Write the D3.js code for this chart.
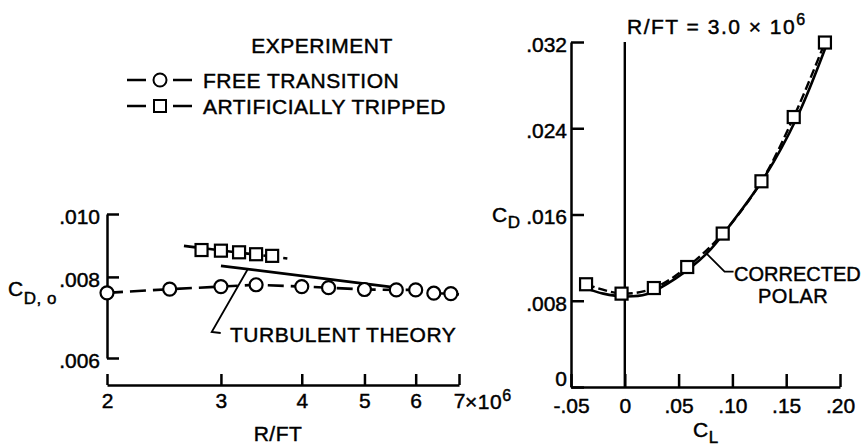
<!DOCTYPE html>
<html>
<head>
<meta charset="utf-8">
<script src="https://cdn.jsdelivr.net/npm/d3@7"></script>
<style>
  body { margin: 0; background: #fff; }
  svg text { font-family: "Liberation Sans", Arial, sans-serif; font-size: 21px; fill: #000;
             stroke: #000; stroke-width: 0.45px; letter-spacing: 0.5px; }
  .axis path, .axis line { stroke: #000; stroke-width: 2.5; }
  .axis text { font-size: 21px; font-family: "Liberation Sans", Arial, sans-serif; letter-spacing: 0; }
</style>
</head>
<body>
<svg id="chart" width="864" height="447"></svg>
<script>
// left panel: zero-lift drag vs Reynolds number per foot (x 10^6)
const freeR = [2.0, 2.5, 3.0, 3.4, 4.0, 4.4, 5.0, 5.6, 6.0, 6.4, 6.8];
const freeCD = [.00756, .00766, .00773, .00778, .00773, .00770, .00765, .00764, .00764, .00755, .00754];
const freeTailR = [7.0];
const freeTailCD = [.00752];
const trippedR = [2.8, 3.0, 3.2, 3.4, 3.6];
const trippedCD = [.00880, .00878, .00873, .00867, .00862];
const trippedFairR = [2.63, 3.8];
const trippedFairCD = [.00893, .00854];
const theoryR = [3.0, 5.6];
const theoryCD = [.00832, .00770];
const rTicks = [2, 3, 4, 5, 6, 7];
const cdoTicks = [.006, .008, .010];
const cdoLabels = [".006", ".008", ".010"];

// right panel: drag polar at R/FT = 3.0 x 10^6
const polarCL = [-0.036, -0.003, 0.027, 0.058, 0.091, 0.127, 0.157, 0.186];
const polarCD = [.00953, .00866, .00918, .01113, .01423, .01908, .02504, .03195];
const corrCL = [-0.036, -0.02, 0.0, 0.02, 0.047, 0.076, 0.10, 0.13, 0.16, 0.187];
const corrCD = [.00915, .00866, .00840, .00860, .01005, .01237, .01530, .01950, .02500, .03160];
const clTicks = [-0.05, 0, 0.05, 0.10, 0.15, 0.20];
const clLabels = ["-.05", "0", ".05", ".10", ".15", ".20"];
const cdTicks = [0, .008, .016, .024, .032];
const cdLabels = ["0", ".008", ".016", ".024", ".032"];

const svg = d3.select("#chart");

// ---------- left panel ----------
const xL = d3.scaleLog().domain([2, 7]).range([107, 459]);
const yL = d3.scaleLog().domain([.006, .010]).range([358, 214]);

svg.append("g")
  .attr("class", "axis")
  .attr("transform", "translate(0,385)")
  .call(d3.axisBottom(xL).tickValues(rTicks).tickFormat(d3.format("d"))
    .tickSize(-11).tickSizeOuter(0).tickPadding(8));

svg.append("g")
  .attr("class", "axis")
  .attr("transform", "translate(107,0)")
  .call(d3.axisLeft(yL).tickValues(cdoTicks).tickFormat((d, i) => cdoLabels[i])
    .tickSize(-12).tickSizeOuter(0).tickPadding(7))
  .selectAll("text").attr("dy", "0.45em");

svg.selectAll(".axis .domain").attr("fill", "none");

// x10^6 after the last tick
svg.append("text")
  .attr("x", xL(7) + 6).attr("y", 409)
  .text("\u00d710")
  .append("tspan").attr("dy", -8).style("font-size", "16px").text("6");

svg.append("text").attr("x", 278).attr("y", 441).attr("text-anchor", "middle").text("R/FT");

const cdo = svg.append("text").attr("x", 8).attr("y", 296);
cdo.append("tspan").text("C");
cdo.append("tspan").attr("dy", 8).style("font-size", "17px").text("D, o");

const lineL = d3.line().x(d => xL(d[0])).y(d => yL(d[1]));

// theory line
svg.append("path")
  .datum(d3.zip(theoryR, theoryCD))
  .attr("d", lineL)
  .attr("fill", "none").attr("stroke", "#000").attr("stroke-width", 2.8);

// fairings
svg.append("path")
  .datum(d3.zip(freeR.concat(freeTailR), freeCD.concat(freeTailCD)))
  .attr("d", lineL)
  .attr("fill", "none").attr("stroke", "#000").attr("stroke-width", 2.6)
  .attr("stroke-dasharray", "16,7");

svg.append("path")
  .datum(d3.zip(trippedFairR, trippedFairCD))
  .attr("d", lineL)
  .attr("fill", "none").attr("stroke", "#000").attr("stroke-width", 2.6)
  .attr("stroke-dasharray", "14,6");

// data symbols
svg.selectAll("circle.free")
  .data(d3.zip(freeR, freeCD))
  .enter().append("circle")
  .attr("class", "free")
  .attr("cx", d => xL(d[0])).attr("cy", d => yL(d[1]))
  .attr("r", 6.5)
  .attr("fill", "#fff").attr("stroke", "#000").attr("stroke-width", 2.2);

svg.selectAll("rect.trip")
  .data(d3.zip(trippedR, trippedCD))
  .enter().append("rect")
  .attr("class", "trip")
  .attr("x", d => xL(d[0]) - 6).attr("y", d => yL(d[1]) - 6)
  .attr("width", 12).attr("height", 12)
  .attr("fill", "#fff").attr("stroke", "#000").attr("stroke-width", 2.2);

// turbulent theory label and leader
const t0 = [xL(theoryR[0]), yL(theoryCD[0])];
const t1 = [xL(theoryR[1]), yL(theoryCD[1])];
const lx = xL(3.3);
const ly = t0[1] + (lx - t0[0]) / (t1[0] - t0[0]) * (t1[1] - t0[1]);
svg.append("path")
  .attr("d", `M${lx},${ly}L${lx - 36},332L${lx - 27},333`)
  .attr("fill", "none").attr("stroke", "#000").attr("stroke-width", 1.8);
svg.append("text").attr("x", 230).attr("y", 342).text("TURBULENT THEORY");

// legend
svg.append("text").attr("x", 322).attr("y", 53).attr("text-anchor", "middle").text("EXPERIMENT");
const legendRows = [
  { label: "FREE TRANSITION", y: 80, shape: "circle" },
  { label: "ARTIFICIALLY TRIPPED", y: 106, shape: "square" }
];
legendRows.forEach(row => {
  svg.append("line").attr("x1", 127).attr("x2", 193).attr("y1", row.y).attr("y2", row.y)
    .attr("stroke", "#000").attr("stroke-width", 2.6).attr("stroke-dasharray", "19,27");
  if (row.shape === "circle") {
    svg.append("circle").attr("cx", 160).attr("cy", row.y).attr("r", 6.5)
      .attr("fill", "#fff").attr("stroke", "#000").attr("stroke-width", 2);
  } else {
    svg.append("rect").attr("x", 154).attr("y", row.y - 6).attr("width", 12).attr("height", 12)
      .attr("fill", "#fff").attr("stroke", "#000").attr("stroke-width", 2);
  }
  svg.append("text").attr("x", 203).attr("y", row.y + 8).text(row.label);
});

// ---------- right panel ----------
const xR = d3.scaleLinear().domain([-0.05, 0.20]).range([571, 840]);
const yR = d3.scaleLinear().domain([0, .032]).range([387, 42]);

svg.append("g")
  .attr("class", "axis")
  .attr("transform", "translate(0,387)")
  .call(d3.axisBottom(xR).tickValues(clTicks).tickFormat((d, i) => clLabels[i])
    .tickSize(-13).tickSizeOuter(0).tickPadding(11));

svg.append("g")
  .attr("class", "axis")
  .attr("transform", "translate(571,0)")
  .call(d3.axisLeft(yR).tickValues(cdTicks).tickFormat((d, i) => cdLabels[i])
    .tickSize(-13).tickSizeOuter(0).tickPadding(4))
  .selectAll("text").attr("dy", "0.45em")
  .filter(d => d === 0).attr("dy", "-0.05em");

svg.selectAll(".axis .domain").attr("fill", "none");

// zero-lift reference line
svg.append("line")
  .attr("x1", xR(0)).attr("x2", xR(0))
  .attr("y1", yR(0)).attr("y2", yR(.032))
  .attr("stroke", "#000").attr("stroke-width", 2.4);

const lineR = d3.line().x(d => xR(d[0])).y(d => yR(d[1])).curve(d3.curveCatmullRom);

svg.append("path")
  .datum(d3.zip(corrCL, corrCD))
  .attr("d", lineR)
  .attr("fill", "none").attr("stroke", "#000").attr("stroke-width", 2.6);

svg.append("path")
  .datum(d3.zip(polarCL, polarCD))
  .attr("d", lineR)
  .attr("fill", "none").attr("stroke", "#000").attr("stroke-width", 2.4)
  .attr("stroke-dasharray", "9,4");

svg.selectAll("rect.polar")
  .data(d3.zip(polarCL, polarCD))
  .enter().append("rect")
  .attr("class", "polar")
  .attr("x", d => xR(d[0]) - 6).attr("y", d => yR(d[1]) - 6)
  .attr("width", 12).attr("height", 12)
  .attr("fill", "#fff").attr("stroke", "#000").attr("stroke-width", 2.2);

// corrected polar label and leader
const px = xR(0.076), py = yR(.01237);
svg.append("path")
  .attr("d", `M${px},${py}L${px + 18},${py + 18}L${px + 27},${py + 18}`)
  .attr("fill", "none").attr("stroke", "#000").attr("stroke-width", 1.8);
svg.append("text").attr("x", 734).attr("y", 281)
  .style("font-size", "20px").style("letter-spacing", "0px").text("CORRECTED");
svg.append("text").attr("x", 758).attr("y", 303)
  .style("font-size", "20px").style("letter-spacing", "0.5px").text("POLAR");

const cd = svg.append("text").attr("x", 492).attr("y", 222);
cd.append("tspan").text("C");
cd.append("tspan").attr("dy", 6).style("font-size", "17px").text("D");

const cl = svg.append("text").attr("x", 693).attr("y", 437);
cl.append("tspan").text("C");
cl.append("tspan").attr("dy", 6).style("font-size", "17px").text("L");

const title = svg.append("text").attr("x", 627).attr("y", 34).style("letter-spacing", "1.5px");
title.append("tspan").text("R/FT = 3.0 \u00d7 10");
title.append("tspan").attr("dy", -9).style("font-size", "16px").text("6");
</script>
</body>
</html>
